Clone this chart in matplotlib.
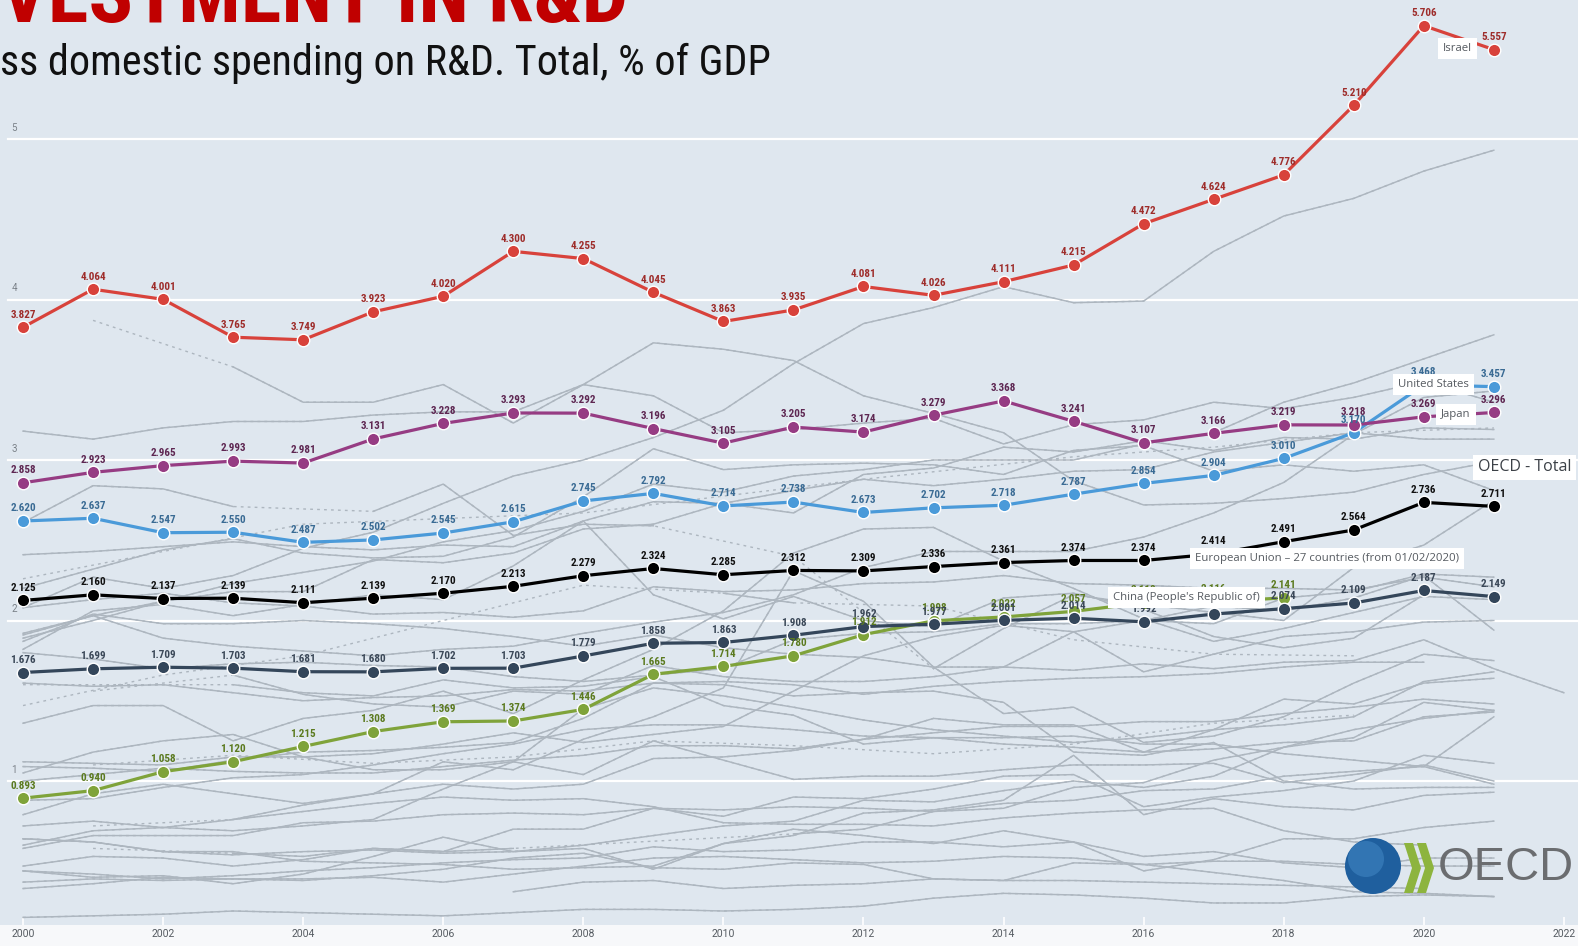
import matplotlib
matplotlib.use('agg')
import matplotlib.pyplot as plt
import matplotlib.transforms as mtransforms
from matplotlib.patches import Circle, Polygon
import numpy as np

# ---- data (GERD, % of GDP) ----
years = list(range(2000, 2023))

israel = [3.827, 4.064, 4.001, 3.765, 3.749, 3.923, 4.020, 4.300, 4.255, 4.045, 3.863,
          3.935, 4.081, 4.026, 4.111, 4.215, 4.472, 4.624, 4.776, 5.210, 5.706, 5.557, None]
japan = [2.858, 2.923, 2.965, 2.993, 2.981, 3.131, 3.228, 3.293, 3.292, 3.196, 3.105,
         3.205, 3.174, 3.279, 3.368, 3.241, 3.107, 3.166, 3.219, 3.218, 3.269, 3.296, None]
usa = [2.620, 2.637, 2.547, 2.550, 2.487, 2.502, 2.545, 2.615, 2.745, 2.792, 2.714,
       2.738, 2.673, 2.702, 2.718, 2.787, 2.854, 2.904, 3.010, 3.170, 3.468, 3.457, None]
oecd = [2.125, 2.160, 2.137, 2.139, 2.111, 2.139, 2.170, 2.213, 2.279, 2.324, 2.285,
        2.312, 2.309, 2.336, 2.361, 2.374, 2.374, 2.414, 2.491, 2.564, 2.736, 2.711, None]
eu27 = [1.676, 1.699, 1.709, 1.703, 1.681, 1.680, 1.702, 1.703, 1.779, 1.858, 1.863,
        1.908, 1.962, 1.977, 2.001, 2.014, 1.992, 2.040, 2.074, 2.109, 2.187, 2.149, None]
china = [0.893, 0.940, 1.058, 1.120, 1.215, 1.308, 1.369, 1.374, 1.446, 1.665, 1.714,
         1.780, 1.912, 1.998, 2.022, 2.057, 2.110, 2.116, 2.141, None, None, None, None]

# other countries (background lines)
korea = [2.08, 2.27, 2.20, 2.28, 2.45, 2.55, 2.73, 2.90, 3.00, 3.14, 3.31, 3.60, 3.85, 3.95, 4.08, 3.98, 3.99, 4.30, 4.52, 4.63, 4.80, 4.93, None]
taiwan = [1.91, 2.03, 2.12, 2.23, 2.30, 2.37, 2.49, 2.56, 2.68, 2.85, 2.80, 2.90, 2.94, 3.00, 3.00, 3.00, 3.10, 3.17, 3.36, 3.48, 3.63, 3.78, None]
sweden = [None, 3.87, None, 3.58, 3.36, 3.36, 3.47, 3.23, 3.47, 3.40, 3.17, 3.19, 3.23, 3.26, 3.10, 3.22, 3.25, 3.36, 3.32, 3.39, 3.49, 3.36, None]
finland = [3.18, 3.13, 3.20, 3.24, 3.24, 3.28, 3.30, 3.30, 3.47, 3.73, 3.69, 3.62, 3.40, 3.29, 3.17, 2.87, 2.72, 2.73, 2.76, 2.80, 2.91, 2.99, None]
switzerland = [2.26, None, None, None, 2.60, None, None, None, 2.67, None, None, None, 2.88, None, None, 3.02, None, 3.08, None, 3.17, None, 3.20, None]
iceland = [2.61, 2.84, 2.82, 2.71, None, 2.68, 2.85, 2.53, 2.60, 2.59, None, 2.40, None, 1.70, 1.95, 2.16, 2.10, 2.05, 2.00, 2.33, 2.47, 2.75, None]
australia = [1.47, None, 1.66, None, 1.78, None, 2.00, None, 2.22, None, 2.17, 2.11, None, 2.09, None, 1.88, None, 1.79, None, 1.78, None, None, None]
germany = [2.41, 2.43, 2.46, 2.49, 2.46, 2.44, 2.47, 2.46, 2.62, 2.74, 2.73, 2.81, 2.88, 2.84, 2.88, 2.93, 2.94, 3.05, 3.11, 3.17, 3.13, 3.13, None]
austria = [1.89, 2.00, 2.12, 2.18, 2.18, 2.38, 2.36, 2.42, 2.57, 2.60, 2.73, 2.67, 2.91, 2.95, 3.08, 3.05, 3.12, 3.06, 3.14, 3.13, 3.20, 3.19, None]
denmark = [2.20, 2.32, 2.44, 2.51, 2.42, 2.39, 2.40, 2.52, 2.77, 3.07, 2.94, 2.97, 2.98, 2.97, 2.91, 3.06, 3.09, 2.93, 2.97, 2.93, 2.97, 2.81, None]
belgium = [1.92, 2.03, 1.89, 1.84, 1.81, 1.78, 1.82, 1.84, 1.92, 1.99, 2.05, 2.16, 2.33, 2.43, 2.43, 2.43, 2.52, 2.67, 2.86, 3.16, 3.39, 3.43, None]
france = [2.08, 2.13, 2.17, 2.11, 2.09, 2.04, 2.05, 2.02, 2.06, 2.21, 2.18, 2.19, 2.23, 2.24, 2.28, 2.23, 2.22, 2.20, 2.20, 2.19, 2.27, 2.21, None]
canada = [1.87, 2.04, 1.98, 1.98, 2.00, 1.98, 1.95, 1.90, 1.84, 1.91, 1.83, 1.79, 1.77, 1.71, 1.71, 1.69, 1.73, 1.70, 1.74, 1.75, 1.88, 1.70, 1.55]
netherlands = [1.80, 1.76, 1.70, 1.73, 1.74, 1.72, 1.71, 1.65, 1.62, 1.66, 1.70, 1.88, 1.92, 1.93, 1.98, 1.98, 2.00, 1.98, 2.14, 2.18, 2.29, 2.27, None]
norway = [None, 1.56, None, 1.66, 1.54, 1.48, 1.46, 1.56, 1.54, 1.72, 1.65, 1.62, 1.62, 1.65, 1.71, 1.93, 2.00, 2.09, 2.06, 2.14, 2.28, 1.94, None]
uk = [1.61, 1.59, 1.60, 1.55, 1.50, 1.52, 1.53, 1.57, 1.56, 1.61, 1.62, 1.60, 1.54, 1.59, 1.62, 1.64, 1.65, 1.67, 1.71, 1.74, 1.74, None, None]
czechia = [1.12, 1.11, 1.10, 1.15, 1.15, 1.17, 1.23, 1.30, 1.24, 1.29, 1.34, 1.56, 1.78, 1.90, 1.97, 1.93, 1.68, 1.79, 1.90, 1.93, 1.99, 2.00, None]
slovenia = [1.36, 1.47, 1.47, 1.25, 1.39, 1.44, 1.56, 1.42, 1.63, 1.82, 2.06, 2.42, 2.57, 2.58, 2.37, 2.20, 2.01, 1.87, 1.95, 2.05, 2.15, 2.13, None]
estonia = [0.60, 0.69, 0.71, 0.76, 0.85, 0.92, 1.12, 1.07, 1.26, 1.40, 1.58, 2.31, 2.12, 1.71, 1.42, 1.46, 1.24, 1.28, 1.40, 1.61, 1.79, 1.75, None]
ireland = [1.09, 1.08, 1.06, 1.13, 1.18, 1.19, 1.21, 1.24, 1.39, 1.61, 1.60, 1.53, 1.55, 1.56, 1.49, 1.18, 1.16, 1.24, 1.00, 0.95, 0.96, 0.96, None]
italy = [1.00, 1.04, 1.08, 1.06, 1.05, 1.05, 1.09, 1.13, 1.16, 1.22, 1.22, 1.20, 1.26, 1.30, 1.34, 1.34, 1.37, 1.37, 1.42, 1.46, 1.51, 1.48, None]
spain = [0.88, 0.89, 0.96, 1.02, 1.04, 1.10, 1.17, 1.23, 1.32, 1.35, 1.35, 1.32, 1.28, 1.27, 1.23, 1.21, 1.18, 1.20, 1.24, 1.25, 1.40, 1.43, None]
portugal = [0.72, 0.75, 0.71, 0.69, 0.72, 0.76, 0.95, 1.12, 1.45, 1.58, 1.53, 1.46, 1.38, 1.32, 1.28, 1.24, 1.27, 1.32, 1.35, 1.40, 1.62, 1.68, None]
hungary = [0.79, 0.92, 0.98, 0.92, 0.86, 0.92, 0.98, 0.95, 0.98, 1.14, 1.15, 1.19, 1.26, 1.39, 1.35, 1.35, 1.18, 1.32, 1.51, 1.48, 1.61, 1.64, None]
poland = [0.64, 0.62, 0.56, 0.54, 0.56, 0.57, 0.55, 0.56, 0.60, 0.66, 0.72, 0.75, 0.88, 0.87, 0.94, 1.00, 0.96, 1.03, 1.21, 1.32, 1.39, 1.44, None]
slovakia = [0.64, 0.62, 0.56, 0.56, 0.50, 0.49, 0.48, 0.45, 0.46, 0.47, 0.61, 0.66, 0.80, 0.82, 0.88, 1.16, 0.79, 0.89, 0.84, 0.82, 0.91, 0.93, None]
greece = [None, 0.58, None, 0.55, 0.53, 0.58, 0.56, 0.58, None, None, None, 0.67, 0.70, 0.81, 0.83, 0.96, 0.99, 1.13, 1.21, 1.27, 1.49, 1.44, None]
turkey = [0.47, 0.53, 0.52, 0.47, 0.51, 0.58, 0.56, 0.70, 0.70, 0.83, 0.82, 0.84, 0.83, 0.81, 0.86, 0.88, 0.94, 0.95, 1.03, 1.06, 1.09, 1.40, None]
mexico = [0.33, 0.36, 0.40, 0.39, 0.39, 0.40, 0.37, 0.42, 0.47, 0.52, 0.53, 0.51, 0.49, 0.50, 0.53, 0.52, 0.48, 0.43, 0.38, 0.31, 0.30, 0.28, None]
chile = [None, None, None, None, None, None, None, 0.31, 0.37, 0.38, 0.33, 0.35, 0.36, 0.39, 0.38, 0.38, 0.37, 0.36, 0.35, 0.34, 0.33, None, None]
latvia = [0.44, 0.40, 0.41, 0.36, 0.42, 0.53, 0.65, 0.56, 0.58, 0.45, 0.61, 0.70, 0.66, 0.61, 0.69, 0.62, 0.44, 0.51, 0.64, 0.64, 0.71, 0.75, None]
lithuania = [0.58, 0.66, 0.66, 0.66, 0.74, 0.75, 0.79, 0.80, 0.79, 0.83, 0.78, 0.90, 0.89, 0.95, 1.03, 1.04, 0.84, 0.90, 0.94, 1.00, 1.16, 1.11, None]
luxembourg = [1.60, None, None, 1.60, 1.55, 1.53, 1.63, 1.58, 1.59, 1.65, 1.47, 1.41, 1.23, 1.27, 1.27, 1.28, 1.23, 1.23, 1.17, 1.13, 1.09, 0.98, None]
new_zealand = [None, 1.10, None, 1.16, None, 1.11, None, 1.15, None, 1.25, None, 1.22, None, 1.17, None, 1.23, None, 1.36, None, 1.41, None, None, None]
russia = [1.05, 1.18, 1.25, 1.29, 1.15, 1.07, 1.07, 1.12, 1.04, 1.25, 1.13, 1.01, 1.03, 1.03, 1.07, 1.10, 1.10, 1.11, 0.99, 1.04, 1.10, 1.00, None]
singapore = [1.82, 2.06, 2.10, 2.03, 2.10, 2.16, 2.13, 2.34, 2.62, 2.16, 2.01, 2.15, 2.00, 1.96, 2.14, 2.17, 2.07, 1.90, 1.83, 1.89, 2.16, None, None]
south_africa = [None, 0.72, None, 0.76, 0.81, 0.86, 0.90, 0.88, 0.89, 0.84, 0.74, 0.73, 0.73, 0.72, 0.77, 0.80, 0.82, 0.83, 0.69, 0.62, 0.60, None, None]
argentina = [0.44, 0.42, 0.39, 0.41, 0.44, 0.46, 0.49, 0.51, 0.52, 0.59, 0.56, 0.57, 0.62, 0.62, 0.59, 0.62, 0.53, 0.56, 0.49, 0.46, 0.52, 0.52, None]
romania = [0.37, 0.39, 0.38, 0.39, 0.38, 0.41, 0.45, 0.52, 0.55, 0.46, 0.45, 0.49, 0.48, 0.39, 0.38, 0.49, 0.48, 0.50, 0.50, 0.48, 0.47, 0.47, None]
colombia = [0.15, 0.16, 0.17, 0.19, 0.18, 0.17, 0.16, 0.18, 0.20, 0.20, 0.19, 0.20, 0.22, 0.27, 0.30, 0.29, 0.27, 0.24, 0.24, 0.28, 0.29, 0.28, None]

others = [korea, taiwan, sweden, finland, switzerland, iceland, australia, germany, austria,
          denmark, belgium, france, canada, netherlands, norway, uk, czechia, slovenia,
          estonia, ireland, italy, spain, portugal, hungary, poland, slovakia, greece,
          turkey, mexico, chile, latvia, lithuania, luxembourg, new_zealand, russia,
          singapore, south_africa, argentina, romania, colombia]

# highlighted series: values, line colour, label colour
highlight = [
    (china, '#7fa33a', '#5b7a1f'),
    (eu27, '#34465a', '#3b4858'),
    (oecd, '#000000', '#111111'),
    (usa, '#4a9ad9', '#3a6b94'),
    (japan, '#963c83', '#5e2752'),
    (israel, '#d8423b', '#9e2d2b'),
]

NARROW = dict(family=['Roboto Condensed', 'Liberation Sans Narrow', 'DejaVu Sans'],
              stretch='condensed')
PLAIN = ['Open Sans', 'DejaVu Sans']
BG = '#dfe7ef'
PT = 100 / 72  # px per point

W, H = 1578, 946
fig = plt.figure(figsize=(W / 100, H / 100), dpi=100, facecolor='#f7f8fa')

# axes placed so that 2000 -> x=23px, 2022 -> x=1564px ; y=0 -> 941.5px, 160.5px per unit
px_year = 70.04
px_unit = 160.5
ax_bottom_px = 925
ax = fig.add_axes([0, (H - ax_bottom_px) / H, 1, ax_bottom_px / H])
ax.set_facecolor(BG)
ax.set_xlim(2000 - 23 / px_year, 2000 + (W - 23) / px_year)
ax.set_ylim((941.5 - ax_bottom_px) / px_unit, 941.5 / px_unit)
for s in ax.spines.values():
    s.set_visible(False)

# grid + y labels
trans = mtransforms.blended_transform_factory(ax.transAxes, ax.transData)
for g in range(1, 6):
    ax.axhline(g, xmin=8 / W, xmax=1, color='white', lw=1.6, zorder=1)
    ax.text(14 / W, g + 0.04, str(g), transform=trans, fontsize=7, color='#7a8188',
            va='bottom', ha='center', family=['Roboto', 'DejaVu Sans'])
ax.set_yticks([])
ax.set_xticks(range(2000, 2023, 2))
ax.tick_params(axis='x', direction='in', length=6, width=1.2, color='white',
               labelsize=7.5, labelcolor='#555b61', pad=3)
for lab in ax.get_xticklabels():
    lab.set_family(['Roboto', 'DejaVu Sans'])


def to_arr(vals):
    return np.array([np.nan if v is None else v for v in vals], dtype=float)


yrs = np.array(years)

# background countries
for vals in others:
    a = to_arr(vals)
    ok = ~np.isnan(a)
    ax.plot(yrs[ok], a[ok], color='#adb6bf', lw=1.0, ls=(0, (2, 3)), zorder=2)
    ax.plot(yrs, a, color='#adb6bf', lw=1.05, zorder=2)

# highlighted series
for vals, lc, tc in highlight:
    a = to_arr(vals)
    ok = ~np.isnan(a)
    ax.plot(yrs[ok], a[ok], color=lc, lw=2.3, marker='o', ms=9, mfc=lc,
            mec='white', mew=1.0, zorder=5, solid_joinstyle='round')
    for x, v in zip(yrs[ok], a[ok]):
        ax.annotate(f'{v:.3f}', (x, v), xytext=(0, 5.5), textcoords='offset points',
                    ha='center', va='bottom', fontsize=8, fontweight='bold',
                    color=tc, zorder=6, **NARROW)

# callout boxes (offsets in px from the point they name)
box = dict(boxstyle='square,pad=0.45', fc='white', ec='none')
callouts = [
    ('Israel', 2021, 5.557, (-36, 1)),
    ('United States', 2021, 3.457, (-60, 2)),
    ('Japan', 2021, 3.296, (-38, -2)),
    ('European Union \u2013 27 countries (from 01/02/2020)', 2021, 2.149, (-167, 38)),
    ("China (People's Republic of)", 2018, 2.141, (-97, 0)),
]
for txt, x, v, (dx, dy) in callouts:
    ax.annotate(txt, (x, v), xytext=(dx / PT, dy / PT), textcoords='offset points',
                ha='center', va='center', fontsize=8.2, color='#555a60',
                bbox=box, zorder=8, family=PLAIN)
ax.annotate('OECD - Total', (2021, 2.711), xytext=(31 / PT, 39 / PT),
            textcoords='offset points', ha='center', va='center', fontsize=11.5,
            color='#3b4046', bbox=dict(boxstyle='square,pad=0.3', fc='white', ec='none'),
            zorder=8, family=PLAIN)

# overlay in pixel coordinates for titles and logo
ov = fig.add_axes([0, 0, 1, 1])
ov.set_xlim(0, W)
ov.set_ylim(H, 0)
ov.axis('off')
ov.patch.set_alpha(0)

title = ov.text(0, 22, 'VESTMENT IN R&D', color='#c00000', fontsize=60,
                fontweight='bold', va='baseline', ha='left', **NARROW)
sub = ov.text(0, 75, 'ss domestic spending on R&D. Total, % of GDP', color='#111111',
              fontsize=30, va='baseline', ha='left', **NARROW)

# OECD logo
ov.add_patch(Circle((1373, 866), 28, fc='#1f5f9e', ec='none', zorder=9))
ov.add_patch(Circle((1366, 859), 18, fc='#3f85c2', ec='none', alpha=0.6, zorder=9))
ov.add_patch(Polygon([(1404, 843), (1413, 843), (1421, 868), (1413, 893), (1404, 893), (1412, 868)],
                     fc='#8db43e', ec='none', zorder=9))
ov.add_patch(Polygon([(1417, 843), (1426, 843), (1434, 868), (1426, 893), (1417, 893), (1425, 868)],
                     fc='#8db43e', ec='none', zorder=9))
logo = ov.text(1438, 868, 'OECD', fontsize=44, color='#6b6d70', va='center', ha='left',
               family=['Liberation Sans', 'DejaVu Sans'], zorder=9)

# fit text widths to the reference
fig.canvas.draw()
r = fig.canvas.get_renderer()
for t, wpx in ((title, 628), (sub, 770), (logo, 136)):
    bb = t.get_window_extent(r)
    t.set_fontsize(t.get_fontsize() * wpx / bb.width)

fig.savefig('out.png', dpi=100, facecolor=fig.get_facecolor())
